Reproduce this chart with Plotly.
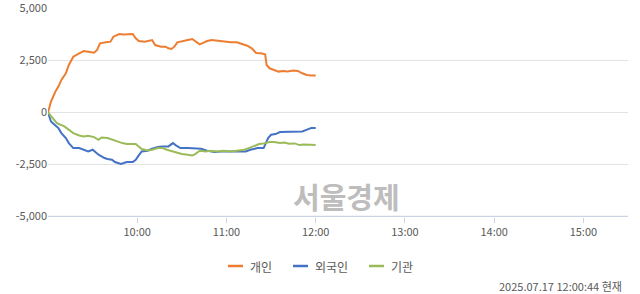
import plotly.graph_objects as go

minutes = [0, 2, 5, 7, 9, 12, 14, 17, 21, 24, 27, 31, 33, 35, 39, 42, 44, 48, 51, 54, 57, 59, 61, 65, 68, 70, 72, 76, 79, 81, 83, 85, 87, 90, 94, 97, 99, 102, 105, 107, 110, 114, 118, 123, 127, 131, 134, 137, 139, 140, 143, 146, 147, 149, 152, 155, 158, 161, 165, 168, 171, 174, 177, 180]
individual = [0, 528, 1008, 1248, 1568, 1888, 2288, 2688, 2848, 2960, 2928, 2880, 3008, 3328, 3376, 3408, 3648, 3776, 3760, 3760, 3776, 3568, 3440, 3408, 3456, 3488, 3248, 3168, 3168, 3088, 3056, 3168, 3376, 3440, 3488, 3536, 3440, 3280, 3376, 3440, 3488, 3456, 3408, 3376, 3376, 3280, 3216, 3088, 2928, 2864, 2848, 2800, 2288, 2128, 2048, 1968, 2000, 1968, 2016, 2000, 1888, 1808, 1776, 1776]

min_f = [0, 2, 5, 7, 9, 12, 14, 17, 21, 24, 27, 30, 32, 34, 38, 40, 43, 45, 49, 51, 53, 57, 59, 61, 63, 67, 70, 74, 77, 81, 84, 86, 89, 94, 98, 103, 107, 112, 116, 121, 125, 130, 133, 136, 141, 145, 148, 150, 153, 156, 159, 163, 168, 171, 175, 177, 180]
foreign = [0, -432, -624, -752, -992, -1232, -1472, -1712, -1712, -1792, -1872, -1792, -1904, -2032, -2192, -2240, -2272, -2384, -2480, -2432, -2384, -2384, -2272, -2064, -1872, -1840, -1744, -1664, -1632, -1632, -1472, -1584, -1712, -1712, -1712, -1744, -1840, -1904, -1872, -1872, -1904, -1904, -1872, -1792, -1712, -1712, -1232, -1072, -1040, -944, -944, -912, -944, -912, -800, -752, -752]

min_i = [0, 3, 6, 11, 14, 17, 21, 24, 27, 31, 34, 36, 40, 43, 47, 50, 53, 57, 59, 61, 63, 67, 70, 74, 77, 80, 84, 87, 90, 94, 97, 99, 102, 106, 109, 114, 118, 123, 127, 132, 135, 139, 142, 145, 149, 152, 156, 159, 162, 166, 169, 172, 176, 180]
institution = [0, -272, -512, -672, -832, -992, -1104, -1152, -1120, -1184, -1312, -1200, -1232, -1312, -1392, -1472, -1520, -1504, -1520, -1632, -1760, -1824, -1792, -1712, -1712, -1792, -1872, -1952, -2000, -2032, -2064, -2000, -1840, -1872, -1840, -1872, -1840, -1872, -1824, -1792, -1712, -1600, -1520, -1488, -1424, -1424, -1472, -1440, -1504, -1488, -1568, -1536, -1568, -1568]

names = ["개인", "외국인", "기관"]
colors = ["#ED7D31", "#4472C4", "#9BBB59"]
hour_ticks = ["10:00", "11:00", "12:00", "13:00", "14:00", "15:00"]
y_ticks = [5000, 2500, 0, -2500, -5000]
y_labels = ["5,000", "2,500", "0", "-2,500", "-5,000"]
stamp = "2025.07.17 12:00:44 현재"
watermark = "서울경제"

def to_time(ms):
    return [f"2025-07-17 {9 + m // 60:02d}:{m % 60:02d}:00" for m in ms]

fig = go.Figure()
for nm, col, xs, ys in zip(names, colors, [minutes, min_f, min_i], [individual, foreign, institution]):
    fig.add_trace(go.Scatter(x=to_time(xs), y=ys, mode="lines", name=nm,
                             line=dict(color=col, width=2), showlegend=False))

font_family = "Noto Sans CJK KR, Noto Sans, sans-serif"
L, R, T, B, W, H = 48, 12, 8, 77, 640, 294
pw, ph = W - L - R, H - T - B

def px(xp):
    return (xp - L) / pw

def py(yp):
    return (H - B - yp) / ph

fig.update_layout(
    width=W, height=H,
    margin=dict(l=L, r=R, t=T, b=B),
    paper_bgcolor="white", plot_bgcolor="white",
    font=dict(family=font_family, size=11, color="#595959"),
    xaxis=dict(
        type="date",
        range=["2025-07-17 09:00:00", "2025-07-17 15:30:00"],
        tickvals=[f"2025-07-17 {t}:00" for t in hour_ticks],
        ticktext=hour_ticks,
        ticks="outside", ticklen=5, tickcolor="#c9d3e3",
        showgrid=False, showline=False, zeroline=False,
        tickfont=dict(size=11, color="#595959"),
        automargin=False,
    ),
    yaxis=dict(
        range=[-5030, 5030],
        tickvals=y_ticks, ticktext=y_labels,
        showgrid=True, gridcolor="#e3e3e3", gridwidth=1,
        zeroline=False, showline=False,
        ticks="", tickfont=dict(size=11, color="#595959"),
        ticklabeloverflow="allow",
        automargin=False,
    ),
)
fig.add_shape(type="line", xref="paper", yref="y", x0=0, x1=1, y0=-5000, y1=-5000,
              line=dict(color="#c9d3e3", width=1.5), layer="above")

# custom legend
leg_line_x = [228, 293, 369]
for nm, col, lx in zip(names, colors, leg_line_x):
    fig.add_shape(type="line", xref="paper", yref="paper", x0=px(lx), x1=px(lx + 15),
                  y0=py(266), y1=py(266), line=dict(color=col, width=2.5))
    fig.add_annotation(text=nm, xref="paper", yref="paper", x=px(lx + 20), y=py(266),
                       xanchor="left", yanchor="middle", showarrow=False,
                       font=dict(size=12, color="#595959", family=font_family))

fig.add_annotation(text=f"<b>{watermark}</b>", xref="paper", yref="paper", x=px(346), y=py(196),
                   xanchor="center", yanchor="middle", showarrow=False,
                   font=dict(size=29, color="#bdbdbd", family=font_family))
fig.add_annotation(text=stamp, xref="paper", yref="paper", x=px(624), y=py(286),
                   xanchor="right", yanchor="middle", showarrow=False,
                   font=dict(size=11, color="#595959", family=font_family))
fig.write_html("out.html")
